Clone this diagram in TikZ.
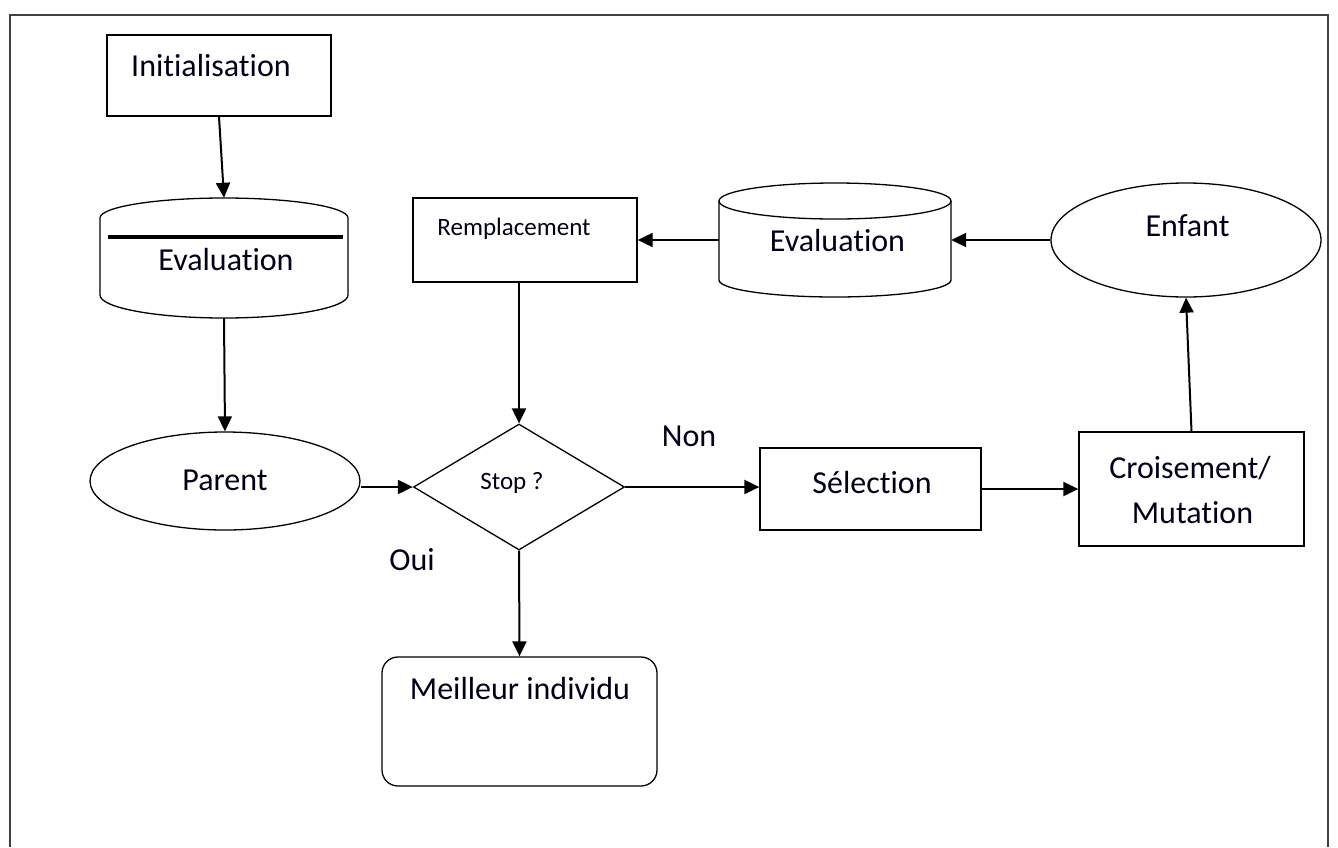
\documentclass[tikz,border=0pt]{standalone}
\usepackage{fontspec}
\setmainfont{Carlito}[Ligatures=NoCommon]
\usetikzlibrary{shapes.geometric,arrows.meta}
\begin{document}
\begin{tikzpicture}[x=1pt,y=-1pt,
  box/.style={draw,line width=1.3pt,inner sep=0pt},
  ghost/.style={inner sep=0pt},
  txt/.style={inner sep=0pt,anchor=base,font=\fontsize{32}{36}\selectfont,text=black!90!blue},
  small/.style={txt,font=\fontsize{25}{28}\selectfont},
  arr/.style={line width=2pt,-{Triangle[length=15pt,width=14pt]}},
  outline/.style={line width=1.3pt}]
\useasboundingbox (0,0) rectangle (1338,847);

% page frame
\draw[line width=1.5pt,black!75] (10,847) -- (10,15) -- (1328,15) -- (1328,847);

% boxes
\node[box,minimum width=224pt,minimum height=81pt] (init) at (219,75.5) {};
\node[txt] (initT) at (211,76) {Initialisation};

% left data store
\node[ghost,minimum width=248pt,minimum height=120pt] (evalA) at (224,258) {};
\draw[outline] (100,218) arc[start angle=180,end angle=360,x radius=124,y radius=20]
  -- (348,295) arc[start angle=0,end angle=180,x radius=124,y radius=23] -- cycle;
\draw[line width=4.5pt] (108,237) -- (343,237);
\node[txt] (evalAT) at (226,270) {Evaluation};

\node[box,ellipse,minimum width=270pt,minimum height=98pt] (parent) at (225,481) {};
\node[txt] (parentT) at (225,490) {Parent};

\node[box,diamond,minimum width=211pt,minimum height=126pt] (stop) at (519,487) {};
\node[small] (stopT) at (512,489) {Stop ?};

\node[box,minimum width=224pt,minimum height=84pt] (rempl) at (525,240) {};
\node[small] (remplT) at (514,235) {Remplacement};

% right data store
\node[ghost,minimum width=232pt,minimum height=114pt] (evalB) at (835,240) {};
\draw[outline] (835,201) ellipse[x radius=116,y radius=18];
\draw[outline] (719,201) -- (719,280) arc[start angle=180,end angle=0,x radius=116,y radius=17] -- (951,201);
\node[txt] (evalBT) at (837.5,251) {Evaluation};

\node[box,ellipse,minimum width=270pt,minimum height=114pt] (enfant) at (1186,240) {};
\node[txt] (enfantT) at (1187.5,236) {Enfant};

\node[box,minimum width=225pt,minimum height=114pt] (cm) at (1191.5,489) {};
\node[txt] (cmT1) at (1190,478) {Croisement/};
\node[txt] (cmT2) at (1192.5,523) {Mutation};

\node[box,minimum width=221pt,minimum height=82pt] (sel) at (870.5,489) {};
\node[txt] (selT) at (872,493) {Sélection};

\node[box,rounded corners=16pt,minimum width=275pt,minimum height=129pt] (best) at (519.5,721.5) {};
\node[txt] (bestT) at (520,699) {Meilleur individu};

\node[txt] (non) at (689,446) {Non};
\node[txt] (oui) at (412,570) {Oui};

% connectors
\draw[arr] (init.south) -- (evalA.north);
\draw[arr] (evalA.south) -- (parent.north);
\draw[arr] (parent.east |- stop.west) -- (stop.west);
\draw[arr] (stop.north |- rempl.south) -- (stop.north);
\draw[arr] (stop.east) -- (stop.east -| sel.west);
\draw[arr] (sel.east) -- (cm.west);
\draw[arr] (cm.north) -- (enfant.south);
\draw[arr] (enfant.west) -- (evalB.east);
\draw[arr] (evalB.west) -- (rempl.east);
\draw[arr] (stop.south) -- (best.north);
\end{tikzpicture}
\end{document}
